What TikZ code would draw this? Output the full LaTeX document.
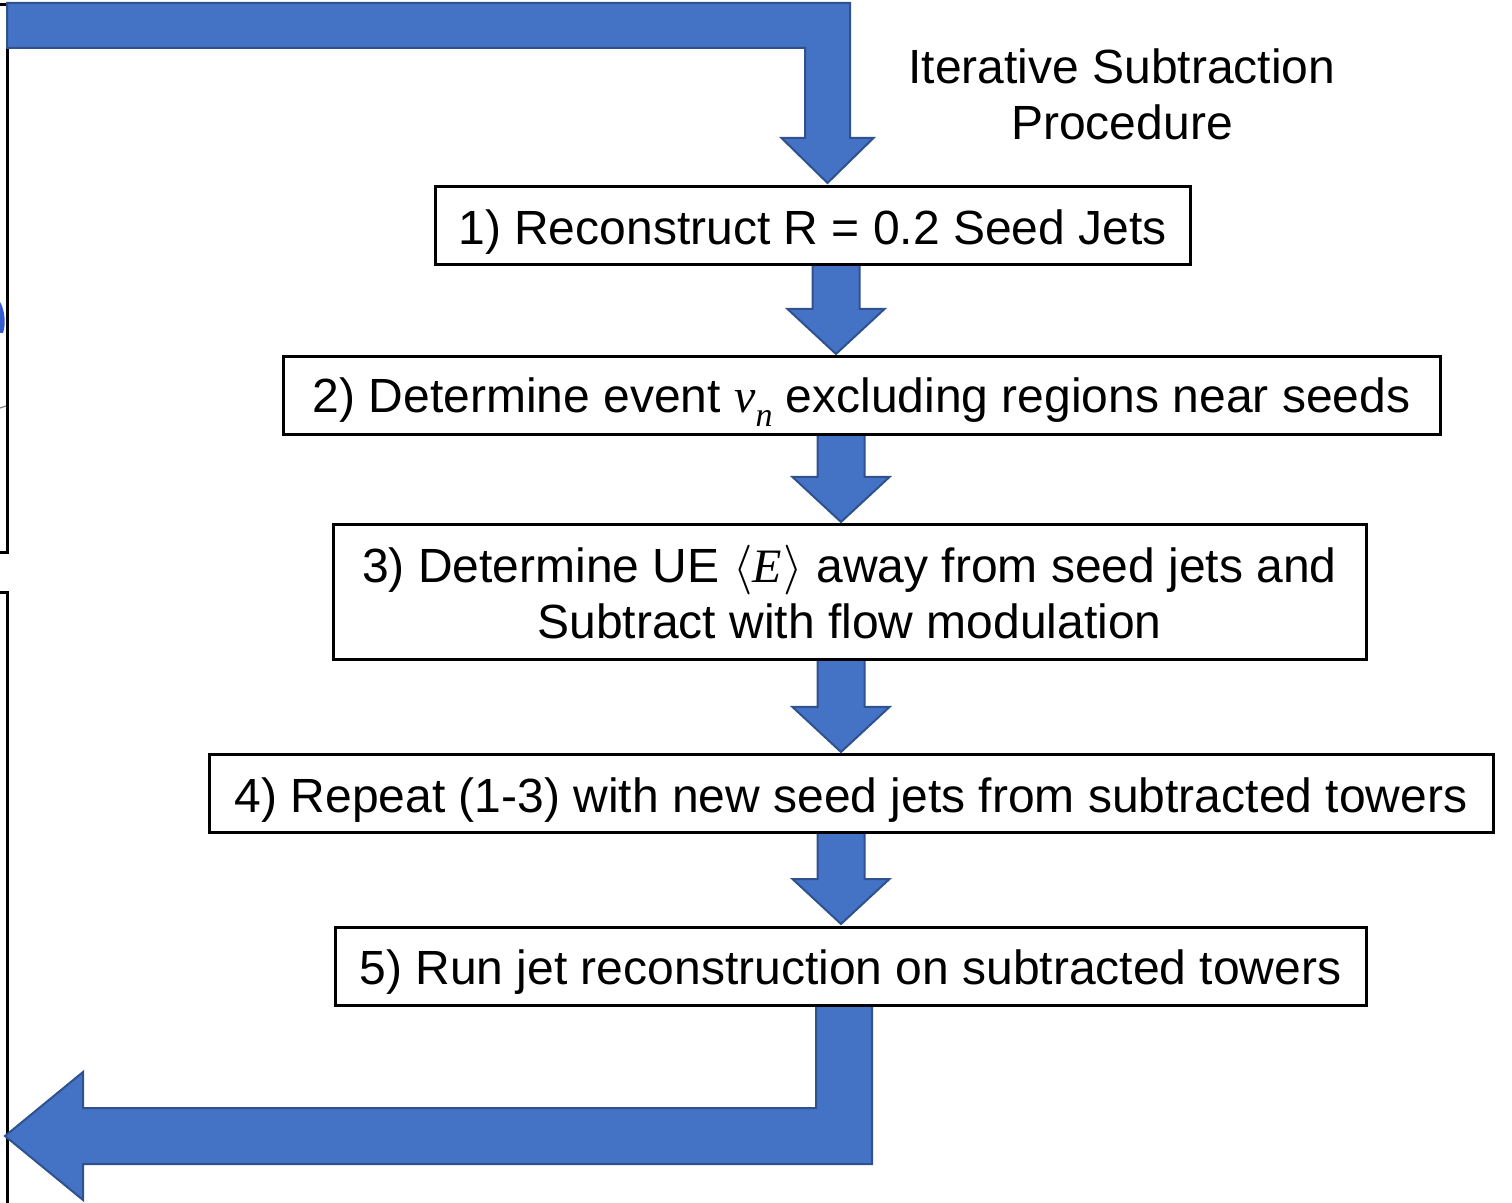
\documentclass[tikz,border=0pt]{standalone}
\usepackage{fontspec}
\setmainfont{Liberation Sans}
\newfontfamily\lsi{Liberation Serif}[ItalicFont=*,UprightFont=* Italic]
\usetikzlibrary{calc}
\definecolor{arrfill}{HTML}{4472C4}
\definecolor{arrline}{HTML}{2F528F}
\newcommand\dnarrow[3]{% #1 column coordinate, #2 upper node, #3 lower node
  \draw[blk] ($(#1 |- #2.south)+(-23.5,0)$)
    -- ($(#1 |- #3.north)+(-23.5,-48)$)
    -- ($(#1 |- #3.north)+(-48.5,-48)$)
    -- ($(#1 |- #3.north)+(0,-3)$)
    -- ($(#1 |- #3.north)+(48.5,-48)$)
    -- ($(#1 |- #3.north)+(23.5,-48)$)
    -- ($(#1 |- #2.south)+(23.5,0)$) -- cycle;}
\newcommand\vsub{{\lsi v}\raisebox{-0.28em}{\fontsize{17}{17}\selectfont\lsi n}}
\newcommand\avgE{\(\langle\)\hbox{\lsi E\kern1pt}\(\rangle\)}
\begin{document}
\begin{tikzpicture}[x=0.5pt,y=-0.5pt,
  stepbox/.style={rectangle,inner sep=0pt,outer sep=0pt},
  boxline/.style={draw=black,line width=1.5pt},
  steptext/.style={inner sep=0pt,align=center,font=\fontsize{24}{28}\selectfont},
  blk/.style={fill=arrfill,draw=arrline,line width=1pt,line join=miter},
  edge/.style={draw=black,line width=1.5pt}]
\useasboundingbox (0,0) rectangle (1512,1203);

% remnants of neighbouring panel at the left edge
\draw[edge] (0,5) -- (7,5) -- (7,553) -- (0,553);
\draw[edge] (0,593) -- (7,593) -- (7,1203);
\fill[arrfill!80!blue] (0,302) .. controls (5,310) and (6,325) .. (3,333) -- (0,333) -- cycle;
\draw[gray,line width=0.6pt] (0,408) -- (6,406);

% boxes (frames drawn later)
\node[stepbox,minimum width=377.5pt,minimum height=39pt] (b1) at (812.5,226) {};
\node[stepbox,minimum width=578.5pt,minimum height=39pt] (b2) at (861.5,396) {};
\node[stepbox,minimum width=516.5pt,minimum height=67.5pt] (b3) at (849.5,592.5) {};
\node[stepbox,minimum width=642pt,minimum height=39pt] (b4) at (851,794) {};
\node[stepbox,minimum width=515.5pt,minimum height=39pt] (b5) at (850.5,966) {};

\coordinate (c0) at (827.5,0);
\coordinate (c1) at (836,0);
\coordinate (c2) at (841,0);
\coordinate (c5) at (844,0);
\coordinate (inlet) at (7,25.5);
\coordinate (outlet) at (5,1136);

% top feedback arrow
\draw[blk] ($(inlet)+(0,-22.5)$) -- ($(c0 |- inlet)+(22.5,-22.5)$)
  -- ($(c0 |- b1.north)+(22.5,-49)$) -- ($(c0 |- b1.north)+(46,-49)$)
  -- ($(c0 |- b1.north)+(0,-4)$)
  -- ($(c0 |- b1.north)+(-46,-49)$) -- ($(c0 |- b1.north)+(-22.5,-49)$)
  -- ($(c0 |- inlet)+(-22.5,22.5)$) -- ($(inlet)+(0,22.5)$) -- cycle;

% step arrows
\dnarrow{c1}{b1}{b2}
\dnarrow{c2}{b2}{b3}
\dnarrow{c2}{b3}{b4}
\dnarrow{c2}{b4}{b5}

% bottom output arrow
\draw[blk] ($(c5 |- b5.south)+(-28,0)$) -- ($(c5 |- outlet)+(-28,-28)$)
  -- ($(outlet)+(78,-28)$) -- ($(outlet)+(78,-64)$) -- (outlet)
  -- ($(outlet)+(78,64)$) -- ($(outlet)+(78,28)$)
  -- ($(c5 |- outlet)+(28,28)$) -- ($(c5 |- b5.south)+(28,0)$) -- cycle;

% box frames on top of the arrow ends
\foreach \b in {b1,b2,b3,b4,b5} \draw[boxline] (\b.north west) rectangle (\b.south east);

% texts
\node[steptext,yshift=-3pt] (t1) at (b1) {1) Reconstruct R = 0.2 Seed Jets};
\node[steptext,yshift=-3pt] (t2) at (b2) {2) Determine event \vsub\ excluding regions near seeds};
\node[steptext] (t3) at (b3) {3) Determine UE \avgE\ away from seed jets and\\Subtract with flow modulation};
\node[steptext,yshift=-3pt] (t4) at (b4) {4) Repeat (1-3) with new seed jets from subtracted towers};
\node[steptext,yshift=-3pt] (t5) at (b5) {5) Run jet reconstruction on subtracted towers};

\node[steptext] (title) at (1122,94) {Iterative Subtraction\\Procedure};
\end{tikzpicture}
\end{document}
